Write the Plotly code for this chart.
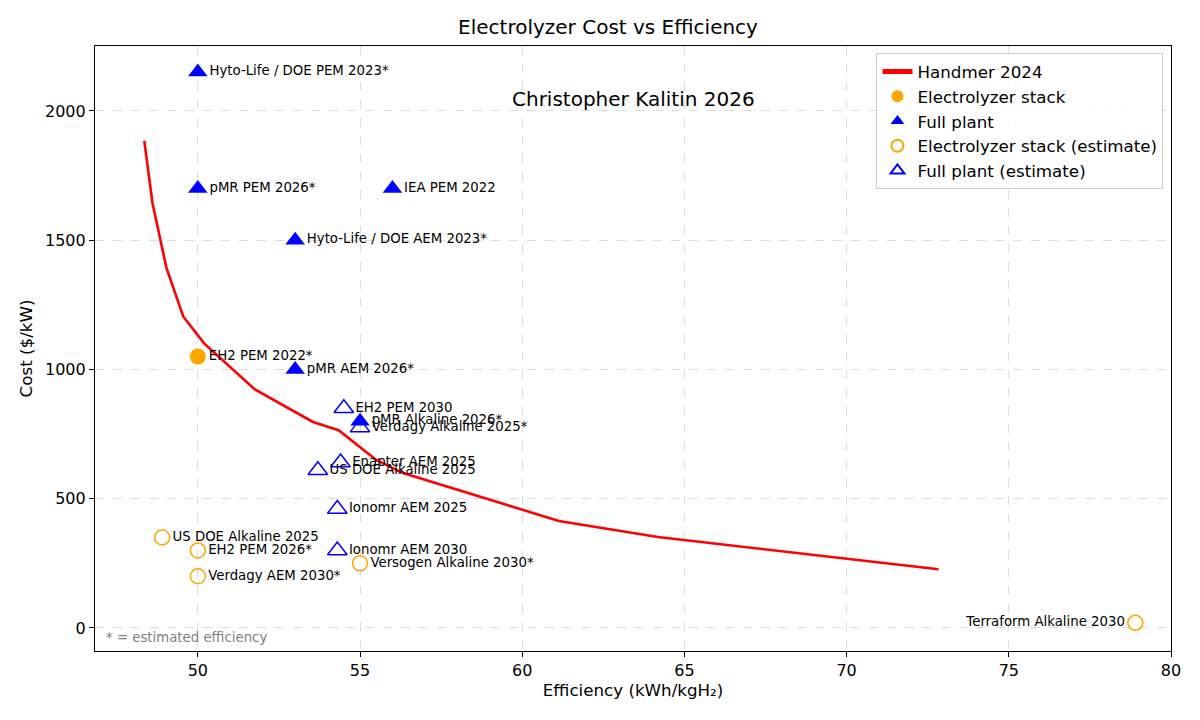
import plotly.graph_objects as go

# Handmer 2024 curve (efficiency kWh/kgH2, cost $/kW)
handmer_eff = [48.35, 48.6, 49.03, 49.55, 50.2, 51.76, 53.55, 54.34, 55.5, 56.3, 61.13, 64.18, 72.83]
handmer_cost = [1884, 1645, 1394, 1205, 1100, 923, 797, 765, 650, 600, 414, 352, 227]

# electrolyzer stack (reported)
stack_names = ["EH2 PEM 2022*"]
stack_eff = [50]
stack_cost = [1050]

# full plant (reported)
plant_names = ["Hyto-Life / DOE PEM 2023*", "pMR PEM 2026*", "IEA PEM 2022",
               "Hyto-Life / DOE AEM 2023*", "pMR AEM 2026*", "pMR Alkaline 2026*"]
plant_eff = [50, 50, 56, 53, 53, 55]
plant_cost = [2150, 1700, 1700, 1500, 1000, 800]

# electrolyzer stack (estimate)
stack_est_names = ["US DOE Alkaline 2025", "EH2 PEM 2026*", "Verdagy AEM 2030*",
                   "Versogen Alkaline 2030*", "Terraform Alkaline 2030"]
stack_est_eff = [48.9, 50, 50, 55, 78.9]
stack_est_cost = [350, 300, 200, 250, 20]

# full plant (estimate)
plant_est_names = ["EH2 PEM 2030", "Verdagy Alkaline 2025*", "Enapter AEM 2025",
                   "US DOE Alkaline 2025", "Ionomr AEM 2025", "Ionomr AEM 2030"]
plant_est_eff = [54.5, 55, 54.4, 53.7, 54.3, 54.3]
plant_est_cost = [850, 775, 640, 610, 460, 300]

FONT = "DejaVu Sans"
label_font = dict(family=FONT, size=13.3, color="black")

fig = go.Figure()

fig.add_trace(go.Scatter(
    x=handmer_eff, y=handmer_cost, mode="lines", name="Handmer 2024",
    line=dict(color="red", width=2.6)
))

fig.add_trace(go.Scatter(
    x=stack_eff, y=stack_cost, mode="markers+text", name="Electrolyzer stack",
    text=stack_names, textposition="middle right", textfont=label_font,
    marker=dict(symbol="circle", size=16, color="orange")
))

fig.add_trace(go.Scatter(
    x=stack_est_eff, y=stack_est_cost, mode="markers+text",
    name="Electrolyzer stack (estimate)",
    text=stack_est_names,
    textposition=["middle right"] * 4 + ["middle left"],
    textfont=label_font,
    marker=dict(symbol="circle-open", size=15, color="orange", line=dict(width=1.5))
))

fig.add_trace(go.Scatter(
    x=plant_est_eff, y=plant_est_cost, mode="markers+text",
    name="Full plant (estimate)",
    text=plant_est_names, textposition="middle right", textfont=label_font,
    marker=dict(symbol="triangle-up-open", size=17, color="blue", line=dict(width=1.5))
))

fig.add_trace(go.Scatter(
    x=plant_eff, y=plant_cost, mode="markers+text", name="Full plant",
    text=plant_names, textposition="middle right", textfont=label_font,
    marker=dict(symbol="triangle-up", size=17, color="blue")
))

# legend order as in the reference
order = {"Handmer 2024": 1, "Electrolyzer stack": 2, "Full plant": 3,
         "Electrolyzer stack (estimate)": 4, "Full plant (estimate)": 5}
for tr in fig.data:
    tr.legendrank = order[tr.name]

fig.add_annotation(
    x=0.5, y=0.9355, xref="paper", yref="paper", text="Christopher Kalitin 2026",
    showarrow=False, font=dict(family=FONT, size=20, color="black")
)
fig.add_annotation(
    x=0.008, y=0.023, xref="paper", yref="paper", text="* = estimated efficiency",
    showarrow=False, xanchor="left", yanchor="middle",
    font=dict(family=FONT, size=13.3, color="gray")
)

axis_common = dict(
    showline=True, linecolor="black", linewidth=1.2, mirror=True,
    ticks="outside", ticklen=5, tickcolor="black",
    showgrid=True, gridcolor="#dddddd", griddash="dash", gridwidth=1,
    zeroline=False, tickfont=dict(family=FONT, size=16, color="black"),
)

fig.update_layout(
    width=1200, height=720,
    margin=dict(l=87, r=37, t=38, b=77),
    paper_bgcolor="white", plot_bgcolor="white",
    font=dict(family=FONT, color="black"),
    title=dict(text="Electrolyzer Cost vs Efficiency", x=0.5, xanchor="center",
               y=0.9736, yanchor="middle", yref="container",
               font=dict(family=FONT, size=20, color="black")),
    xaxis=dict(axis_common, range=[46.83, 80], dtick=5,
               title=dict(text="Efficiency (kWh/kgH₂)", standoff=4,
                          font=dict(family=FONT, size=16.7))),
    yaxis=dict(axis_common, range=[-89, 2251], dtick=500,
               title=dict(text="Cost ($/kW)", standoff=8,
                          font=dict(family=FONT, size=16.7))),
    legend=dict(x=0.993, y=0.988, xanchor="right", yanchor="top",
                bgcolor="rgba(255,255,255,0.85)", bordercolor="#cccccc", borderwidth=1,
                font=dict(family=FONT, size=16.7, color="black"),
                itemsizing="constant"),
    showlegend=True,
)

fig.write_html("out.html")
